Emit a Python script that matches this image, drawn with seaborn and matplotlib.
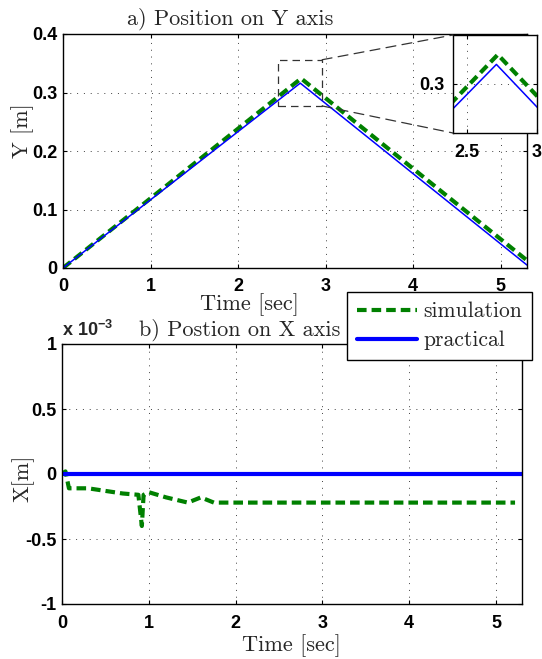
import matplotlib
matplotlib.use("Agg")
import matplotlib.pyplot as plt
import seaborn as sns
from matplotlib.patches import Rectangle, ConnectionPatch
from matplotlib.font_manager import FontProperties

# --- data ---
# a) position on Y axis [m]
time_y_sim = [0.0, 2.72, 5.30]
pos_y_sim = [0.0, 0.324, 0.013]
time_y_prac = [0.0, 2.71, 5.30]
pos_y_prac = [0.0, 0.316, 0.005]

# b) position on X axis [x 1e-3 m]
time_x_sim = [0.0, 0.04, 0.08, 0.30, 0.50, 0.70, 0.88, 0.92, 0.94, 1.00,
              1.20, 1.45, 1.60, 1.75, 5.22]
pos_x_sim = [0.0, 0.02, -0.11, -0.11, -0.13, -0.15, -0.16, -0.40, -0.16, -0.14,
             -0.18, -0.22, -0.18, -0.22, -0.22]
time_x_prac = [0.0, 5.30]
pos_x_prac = [0.0, 0.0]

x_ticks = [0, 1, 2, 3, 4, 5]
y_ticks_top = [0, 0.1, 0.2, 0.3, 0.4]
y_ticks_top_lbl = ["0", "0.1", "0.2", "0.3", "0.4"]
y_ticks_bot = [-1, -0.5, 0, 0.5, 1]
y_ticks_bot_lbl = ["-1", "-0.5", "0", "0.5", "1"]
legend_labels = ["simulation", "practical"]

GREEN = "#008000"
BLUE = "#0000FF"
DASH = (0, (2.3, 1.2))

sns.set_style("whitegrid")
plt.rcParams["font.family"] = ["Liberation Sans", "DejaVu Sans"]
plt.rcParams["font.weight"] = "bold"
plt.rcParams["axes.unicode_minus"] = False
plt.rcParams["mathtext.fontset"] = "custom"
plt.rcParams["mathtext.rm"] = "Liberation Sans:bold"
plt.rcParams["mathtext.default"] = "rm"

W, H = 542, 659
fig = plt.figure(figsize=(W / 100, H / 100), dpi=100)

def px_box(l, t, r, b):
    return [l / W, 1 - b / H, (r - l) / W, (b - t) / H]

ax_top = fig.add_axes(px_box(63, 34, 527, 268))
ax_bot = fig.add_axes(px_box(62, 344, 522, 604))
ax_in = fig.add_axes(px_box(453, 35, 537, 133))

cm = dict(fontfamily="cmr10", fontweight="normal", fontsize=16)
TICK = 13

def style_axes(ax):
    ax.set_facecolor("white")
    ax.grid(True, color="0.25", linestyle=(0, (1, 6)), linewidth=0.7)
    for s in ax.spines.values():
        s.set_color("black")
        s.set_linewidth(1.0)
        s.set_visible(True)
    ax.tick_params(direction="in", length=3, width=0.8, color="black",
                   labelsize=TICK, labelcolor="black", bottom=True, left=True,
                   top=True, right=True)

# --- top panel ---
sns.lineplot(x=time_y_sim, y=pos_y_sim, ax=ax_top, color=GREEN, lw=3,
             linestyle=DASH, estimator=None, legend=False)
sns.lineplot(x=time_y_prac, y=pos_y_prac, ax=ax_top, color=BLUE, lw=1.1,
             estimator=None, legend=False)
style_axes(ax_top)
ax_top.set_xlim(0, 5.3)
ax_top.set_ylim(0, 0.4)
ax_top.set_xticks(x_ticks, [str(v) for v in x_ticks])
ax_top.set_yticks(y_ticks_top, y_ticks_top_lbl)
ax_top.tick_params(axis="x", pad=7)
ax_top.tick_params(axis="y", pad=4)
ax_top.set_xlabel("Time [sec]", va="center", **cm)
ax_top.xaxis.set_label_coords(0.401, -0.158)
ax_top.set_ylabel("Y [m]", va="center", **cm)
ax_top.yaxis.set_label_coords(-0.086, 0.585)
ax_top.text(0.36, 1.064, "a) Position on Y axis", transform=ax_top.transAxes,
            ha="center", va="center", **cm)

# zoom box + connectors
zoom_x = (2.46, 2.96)
zoom_y = (0.277, 0.356)
ax_top.add_patch(Rectangle((zoom_x[0], zoom_y[0]), zoom_x[1] - zoom_x[0],
                           zoom_y[1] - zoom_y[0], fill=False, ec="0.2",
                           lw=0.9, linestyle=(0, (6, 4)), zorder=3))
for yy, corner in ((zoom_y[1], (0, 1)), (zoom_y[0], (0, 0))):
    con = ConnectionPatch(xyA=(zoom_x[1], yy), coordsA=ax_top.transData,
                          xyB=corner, coordsB=ax_in.transAxes,
                          color="0.2", lw=0.9, linestyle=(0, (8, 5)))
    fig.add_artist(con)

# --- inset ---
sns.lineplot(x=time_y_sim, y=pos_y_sim, ax=ax_in, color=GREEN, lw=3,
             linestyle=DASH, estimator=None, legend=False)
sns.lineplot(x=time_y_prac, y=pos_y_prac, ax=ax_in, color=BLUE, lw=1.1,
             estimator=None, legend=False)
style_axes(ax_in)
ax_in.set_xlim(2.4, 3.0)
ax_in.set_ylim(0.26, 0.34)
ax_in.set_xticks([2.5, 3.0], ["2.5", "3"])
ax_in.set_yticks([0.3], ["0.3"])
ax_in.tick_params(axis="x", pad=8)
ax_in.tick_params(axis="y", pad=6)
ax_in.set_xlabel("")
ax_in.set_ylabel("")

# --- bottom panel ---
sns.lineplot(x=time_x_sim, y=pos_x_sim, ax=ax_bot, color=GREEN, lw=3,
             linestyle=DASH, estimator=None, legend=False)
sns.lineplot(x=time_x_prac, y=pos_x_prac, ax=ax_bot, color=BLUE, lw=3,
             estimator=None, legend=False)
style_axes(ax_bot)
ax_bot.set_xlim(0, 5.3)
ax_bot.set_ylim(-1, 1)
ax_bot.set_xticks(x_ticks, [str(v) for v in x_ticks])
ax_bot.set_yticks(y_ticks_bot, y_ticks_bot_lbl)
ax_bot.tick_params(axis="x", pad=8)
ax_bot.tick_params(axis="y", pad=4)
ax_bot.set_xlabel("Time [sec]", va="center", **cm)
ax_bot.xaxis.set_label_coords(0.498, -0.162)
ax_bot.set_ylabel("X[m]", va="center", **cm)
ax_bot.yaxis.set_label_coords(-0.085, 0.485)
ax_bot.text(0.0, 1.054, "x 10$^{-3}$", transform=ax_bot.transAxes,
            ha="left", va="center", fontsize=TICK, fontweight="bold")
ax_bot.text(0.387, 1.054, "b) Postion on X axis", transform=ax_bot.transAxes,
            ha="center", va="center", **cm)

handles = [ax_bot.lines[0], ax_bot.lines[1]]
leg = fig.legend(handles, legend_labels, loc="upper left",
                 bbox_to_anchor=(347 / W, 1 - 292 / H),
                 prop=FontProperties(family="cmr10", size=15.5),
                 frameon=True, fancybox=False, edgecolor="black",
                 framealpha=1, borderaxespad=0, handlelength=2.8,
                 borderpad=0.45, labelspacing=0.45, handletextpad=0.3)
leg.get_frame().set_linewidth(1.0)

fig.savefig("out.png", dpi=100)
